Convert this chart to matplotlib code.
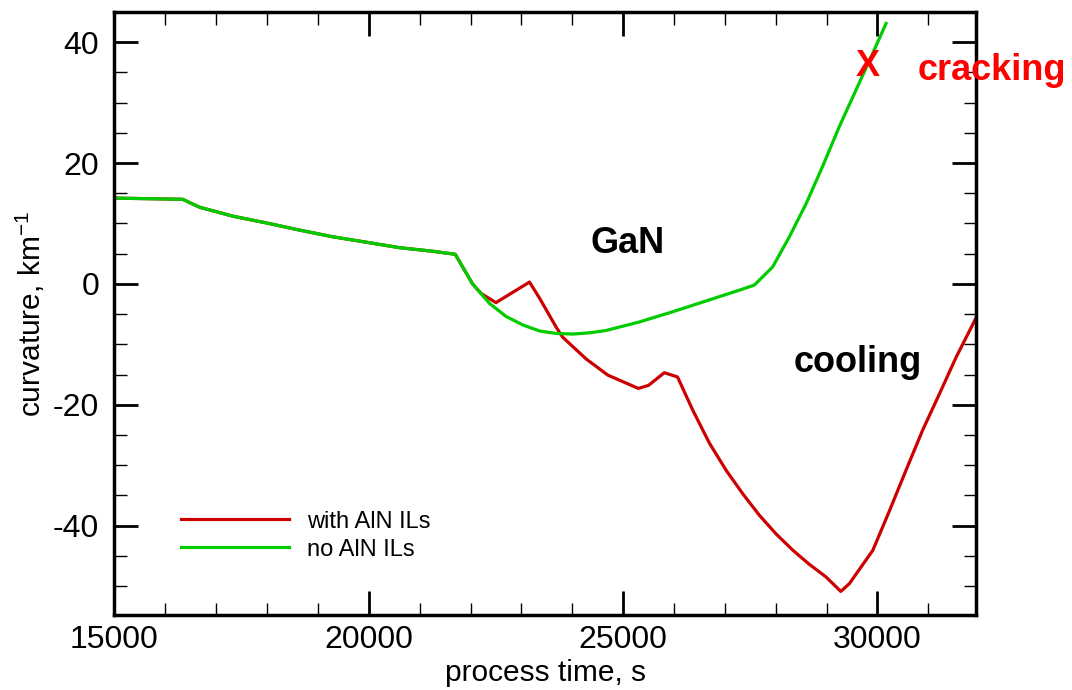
import matplotlib
matplotlib.use("Agg")
import matplotlib.pyplot as plt
from matplotlib.ticker import MultipleLocator

plt.rcParams['font.family'] = ['Liberation Sans', 'DejaVu Sans']
plt.rcParams['axes.unicode_minus'] = False

# curvature without AlN interlayers (green)
t_no = [15000, 16340, 16670, 17330, 17980, 18640, 19290, 19950, 20600,
        21260, 21700, 22040, 22370, 22700, 23030, 23360, 23680, 24010,
        24340, 24670, 25320, 25980, 26640, 27300, 27580, 27940, 28270,
        28600, 28920, 29250, 29580, 29910, 30170]
k_no = [14.2, 14.0, 12.7, 11.2, 10.1, 8.9, 7.8, 6.9, 6.0,
        5.4, 4.9, 0.0, -3.2, -5.4, -6.8, -7.8, -8.2, -8.3,
        -8.1, -7.7, -6.3, -4.6, -2.8, -1.0, -0.2, 2.8, 7.8,
        13.3, 19.4, 26.0, 32.1, 38.2, 43.1]

# curvature with AlN interlayers (red)
t_with = [15000, 16340, 16670, 17330, 17980, 18640, 19290, 19950, 20600,
          21260, 21700, 22040, 22210, 22500, 23160, 23360, 23680, 23810,
          24270, 24700, 25300, 25500, 25810, 26070, 26370, 26700, 27030,
          27350, 27680, 28010, 28340, 28660, 28990, 29280, 29450, 29650,
          29910, 30240, 30560, 30890, 31220, 31550, 31870, 31940]
k_with = [14.2, 14.0, 12.7, 11.2, 10.1, 8.9, 7.8, 6.9, 6.0,
          5.4, 4.9, 0.0, -1.6, -3.1, 0.3, -2.4, -7.1, -8.8,
          -12.4, -15.1, -17.3, -16.8, -14.7, -15.4, -20.9, -26.4, -30.9,
          -34.7, -38.3, -41.4, -44.1, -46.4, -48.5, -50.9, -49.6, -47.2,
          -44.1, -37.5, -30.9, -24.2, -18.2, -12.1, -6.8, -5.6]

fig = plt.figure(figsize=(10.72, 6.90), dpi=100)
ax = fig.add_axes([0.1068, 0.1087, 0.8037, 0.8739])

ax.plot(t_with, k_with, color='#cc0000', lw=2.3, label='with AlN ILs')
ax.plot(t_no, k_no, color='#00cc00', lw=2.3, label='no AlN ILs')

ax.set_xlim(15000, 31940)
ax.set_ylim(-54.8, 45)
ax.xaxis.set_major_locator(MultipleLocator(5000))
ax.xaxis.set_minor_locator(MultipleLocator(1000))
ax.yaxis.set_major_locator(MultipleLocator(20))
ax.yaxis.set_minor_locator(MultipleLocator(5))
ax.tick_params(which='both', direction='in', top=True, right=True)
ax.tick_params(which='major', length=17, width=2, labelsize=23, pad=7)
ax.tick_params(axis='y', which='major', pad=11)
ax.tick_params(which='minor', length=9, width=1)
for s in ax.spines.values():
    s.set_linewidth(2.5)

ax.set_xlabel('process time, s', fontsize=21.5, labelpad=3)
ax.set_ylabel('curvature, km$^{\\mathregular{-1}}$', fontsize=21.5, labelpad=4)

ax.text(25080, 6.7, 'GaN', fontsize=26, fontweight='bold', ha='center', va='center')
ax.text(29620, -13.0, 'cooling', fontsize=26, fontweight='bold', ha='center', va='center')
ax.text(29810, 35.9, 'X', fontsize=26, fontweight='bold', color='red', ha='center', va='center')
ax.text(32260, 35.4, 'cracking', fontsize=26, fontweight='bold', color='red',
        ha='center', va='center', clip_on=False)

ax.legend(loc='lower left', bbox_to_anchor=(0.052, 0.055), frameon=False,
          fontsize=17, handlelength=4.6, handletextpad=0.75, labelspacing=0.25)

fig.savefig('out.png', dpi=100)
